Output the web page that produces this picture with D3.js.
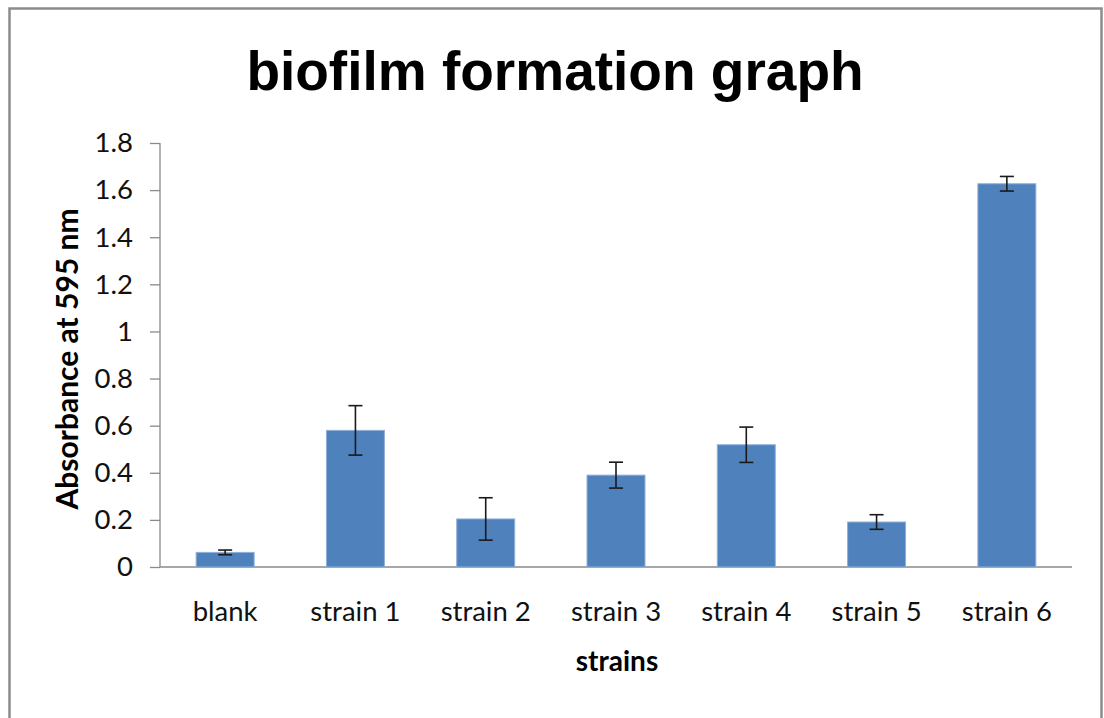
<!DOCTYPE html>
<html>
<head>
<meta charset="utf-8">
<script src="https://cdn.jsdelivr.net/npm/d3@7"></script>
<style>
  html, body { margin: 0; padding: 0; background: #fff; }
  svg { display: block; }
  .axis path, .axis line { stroke: #8a8a8a; stroke-width: 1.3; }
  .axis text { font-family: Lato, "Open Sans", sans-serif; font-size: 27.5px; fill: #111; }
</style>
</head>
<body>
<svg id="chart" width="1104" height="718"></svg>
<script>
/* ---------- data ---------- */
const categories = ["blank", "strain 1", "strain 2", "strain 3", "strain 4", "strain 5", "strain 6"];
const absorbance = [0.062, 0.58, 0.204, 0.39, 0.519, 0.191, 1.627];
const errors     = [0.010, 0.105, 0.09, 0.055, 0.075, 0.031, 0.031];
const yTicks     = [0, 0.2, 0.4, 0.6, 0.8, 1, 1.2, 1.4, 1.6, 1.8];

/* ---------- layout ---------- */
const svg = d3.select("#chart");
const plot = { left: 160, right: 1072, top: 143, bottom: 567 };

// chart frame
svg.append("rect")
  .attr("x", 9.5).attr("y", 8.5)
  .attr("width", 1092).attr("height", 740)
  .attr("fill", "none").attr("stroke", "#8c8c8c").attr("stroke-width", 2.5);

const x = d3.scaleBand().domain(categories).range([plot.left, plot.right]).paddingInner(0.555).paddingOuter(0.2775);
const y = d3.scaleLinear().domain([0, 1.8]).range([plot.bottom, plot.top]);

/* ---------- axes ---------- */
const yAxis = d3.axisLeft(y).tickValues(yTicks).tickSize(10).tickSizeOuter(0).tickPadding(17)
  .tickFormat(d => d3.format("")(+d.toFixed(1)));
svg.append("g").attr("class", "axis y-axis")
  .attr("transform", `translate(${plot.left},0)`)
  .call(yAxis)
  .call(g => g.select(".domain").attr("d", `M0,${plot.top}V${plot.bottom}`));

const xAxis = d3.axisBottom(x).tickSize(0).tickPadding(0);
svg.append("g").attr("class", "axis x-axis")
  .attr("transform", `translate(0,${plot.bottom})`)
  .call(xAxis)
  .call(g => g.select(".domain").attr("d", `M${plot.left},0H${plot.right}`))
  .call(g => g.selectAll(".tick text").attr("dy", null).attr("y", 54));

/* ---------- bars ---------- */
svg.append("g").selectAll("rect")
  .data(categories)
  .join("rect")
  .attr("x", d => x(d))
  .attr("width", x.bandwidth())
  .attr("y", (d, i) => y(absorbance[i]))
  .attr("height", (d, i) => y(0) - y(absorbance[i]))
  .attr("fill", "#4f81bd")
  .attr("stroke", "#8fb0d8")
  .attr("stroke-width", 1);

/* ---------- error bars ---------- */
const eb = svg.append("g").attr("stroke", "#1a1a1a").attr("stroke-width", 1.6);
categories.forEach((c, i) => {
  const cx = x(c) + x.bandwidth() / 2;
  const hi = y(absorbance[i] + errors[i]);
  const lo = y(absorbance[i] - errors[i]);
  eb.append("line").attr("x1", cx).attr("x2", cx).attr("y1", hi).attr("y2", lo);
  eb.append("line").attr("x1", cx - 7).attr("x2", cx + 7).attr("y1", hi).attr("y2", hi);
  eb.append("line").attr("x1", cx - 7).attr("x2", cx + 7).attr("y1", lo).attr("y2", lo);
});

/* ---------- titles ---------- */
svg.append("text")
  .attr("x", 555).attr("y", 90).attr("text-anchor", "middle")
  .style("font-family", "'Liberation Sans', Arial, sans-serif")
  .style("font-weight", "bold").style("font-size", "55px")
  .text("biofilm formation graph");

svg.append("text")
  .attr("transform", "translate(78,359) rotate(-90)")
  .attr("text-anchor", "middle")
  .style("font-family", "Lato, sans-serif").style("font-weight", "bold").style("font-size", "30px")
  .text("Absorbance at 595 nm");

svg.append("text")
  .attr("x", 617).attr("y", 671).attr("text-anchor", "middle")
  .style("font-family", "Lato, sans-serif").style("font-weight", "bold").style("font-size", "28px")
  .text("strains");
</script>
</body>
</html>
